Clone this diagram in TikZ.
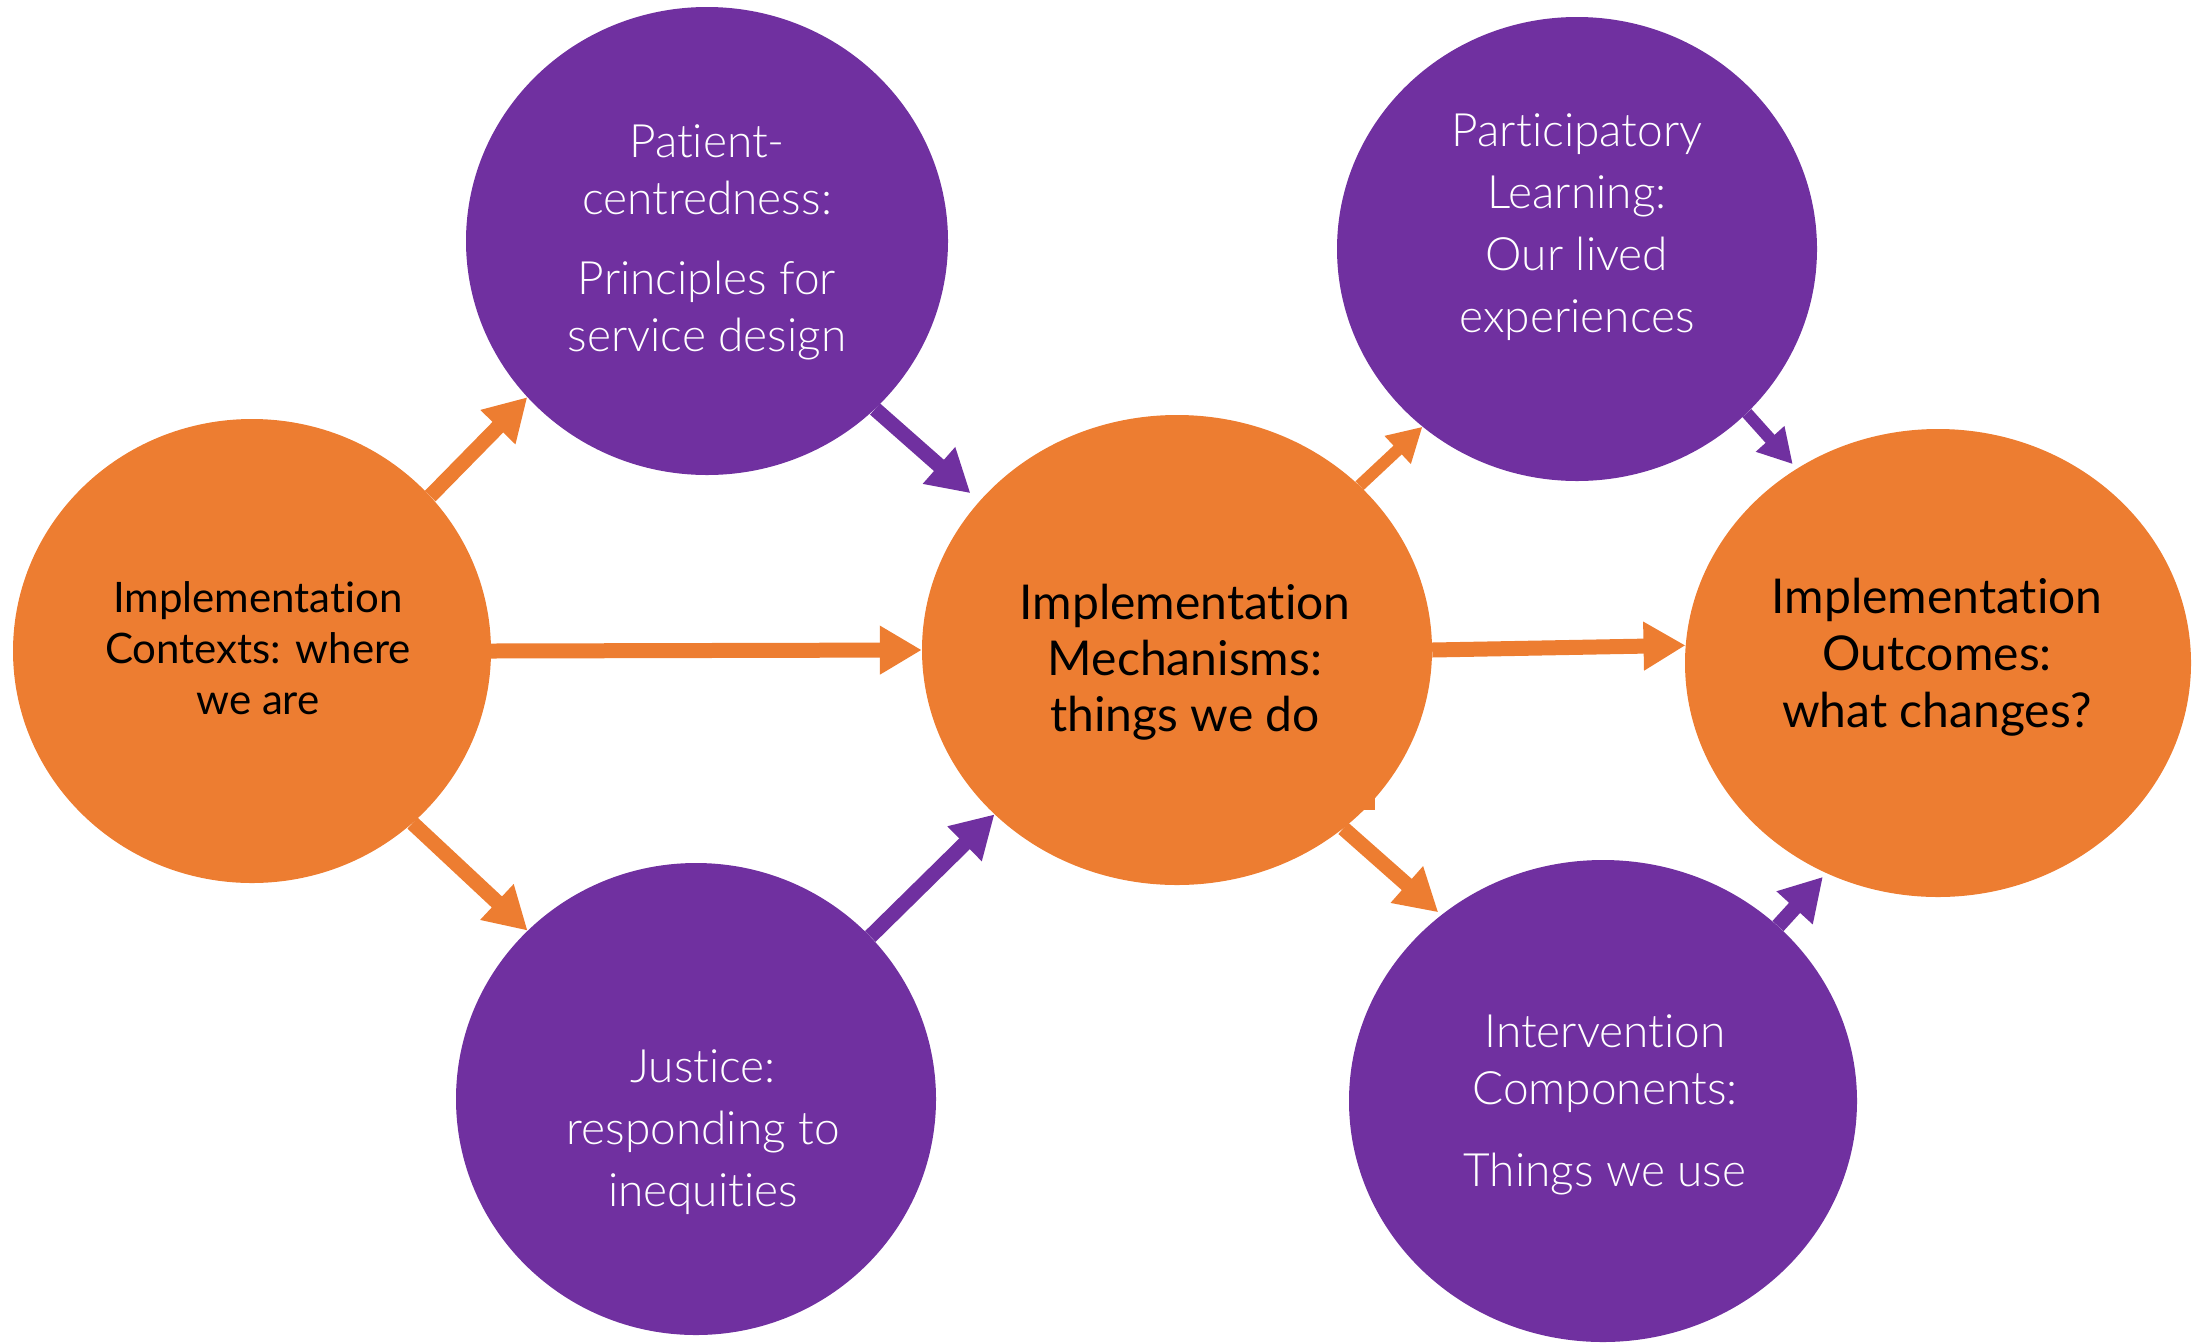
\documentclass[tikz,border=0pt]{standalone}
\usepackage{fontspec}
\setmainfont{Lato}[Ligatures={NoCommon}]
\newfontfamily\lightfont{Lato Light}[Ligatures={NoCommon}]
\usetikzlibrary{arrows.meta,shapes.geometric}
\definecolor{orng}{HTML}{ED7D31}
\definecolor{purp}{HTML}{7030A0}
\begin{document}
\begin{tikzpicture}[x=1pt,y=-1pt,
  blob/.style={ellipse, inner sep=0pt, draw=none},
  orangebub/.style={blob, fill=orng},
  purplebub/.style={blob, fill=purp},
  otext/.style={align=center, text=black, inner sep=0pt},
  ptext/.style={align=center, text=white, inner sep=0pt, font=\lightfont\fontsize{46}{60}\selectfont},
  bigo/.style={draw=orng, line width=15pt, -{Triangle[width=46pt,length=42pt]}},
  bigp/.style={draw=purp, line width=15pt, -{Triangle[width=46pt,length=42pt]}},
  smallo/.style={draw=orng, line width=12pt, -{Triangle[width=36pt,length=34pt]}},
  smallp/.style={draw=purp, line width=12pt, -{Triangle[width=36pt,length=34pt]}}]
\useasboundingbox (0,0) rectangle (2192,1342);
% bubbles
\node[orangebub, minimum width=478pt, minimum height=464pt] (ctx) at (252,651) {};
\node[orangebub, minimum width=510pt, minimum height=470pt] (mech) at (1177,650) {};
\node[orangebub, minimum width=506pt, minimum height=468pt] (out) at (1938,663) {};
\node[purplebub, minimum width=482pt, minimum height=468pt] (pat) at (707,241) {};
\node[purplebub, minimum width=480pt, minimum height=464pt] (part) at (1577,249) {};
\node[purplebub, minimum width=480pt, minimum height=472pt] (just) at (696,1099) {};
\node[purplebub, minimum width=508pt, minimum height=482pt] (comp) at (1603,1101) {};
\fill[orng] (1364,797) rectangle (1375,810);
% texts
\node[otext, font=\fontsize{42}{51}\selectfont] (ctxt) at (258,648) {Implementation\\Contexts: where\\we are};
\node[otext, font=\fontsize{48}{56}\selectfont] (mecht) at (1185,662) {Implementation\\Mechanisms:\\things we do};
\node[otext, font=\fontsize{48}{57}\selectfont] (outt) at (1937,657) {Implementation\\Outcomes:\\what changes?};
\node[ptext, font=\lightfont\fontsize{46}{57}\selectfont] (patt) at (707,242) {Patient-\\centredness:\\[23pt]Principles for\\service design};
\node[ptext, font=\lightfont\fontsize{46}{62}\selectfont] (partt) at (1577,227) {Participatory\\Learning:\\Our lived\\experiences};
\node[ptext, font=\lightfont\fontsize{46}{62}\selectfont] (justt) at (703,1132) {Justice:\\responding to\\inequities};
\node[ptext, font=\lightfont\fontsize{46}{57}\selectfont] (compt) at (1605,1105) {Intervention\\Components:\\[25pt]Things we use};
% connectors
\draw[bigo] (ctx.41.7) -- (pat.221.4);
\draw[bigp, shorten >=12pt] (pat.315.7) -- (mech.143.2);
\draw[bigo] (ctx.east) -- (mech.west);
\draw[bigo] (ctx.313.1) -- (just.135);
\draw[bigp] (just.43.2) -- (mech.222.8);
\draw[smallo] (mech.42) -- (part.229.9);
\draw[smallp, shorten >=6pt] (part.316.4) -- (out.126.5);
\draw[bigo] (mech.east) -- (out.176.2);
\draw[bigo, shorten >=4pt] (mech.313) -- (comp.131.4);
\draw[bigp, shorten >=5pt] (comp.45.2) -- (out.242.1);
\end{tikzpicture}
\end{document}
